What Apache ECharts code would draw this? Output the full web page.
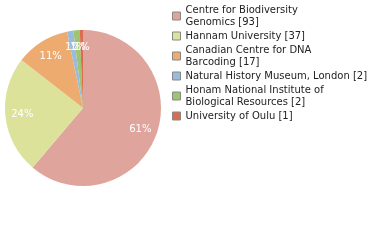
<!DOCTYPE html>
<html><head><meta charset="utf-8">
<script src="https://cdn.jsdelivr.net/npm/echarts@6/dist/echarts.min.js"></script>
<style>html,body{margin:0;padding:0;background:#fff}#c{width:380px;height:240px}</style>
</head><body><div id="c"></div>
<script>
var names = ["Centre for Biodiversity Genomics", "Hannam University", "Canadian Centre for DNA Barcoding", "Natural History Museum, London", "Honam National Institute of Biological Resources", "University of Oulu"];
var legendLabels = ["Centre for Biodiversity\nGenomics [93]", "Hannam University [37]", "Canadian Centre for DNA\nBarcoding [17]", "Natural History Museum, London [2]", "Honam National Institute of\nBiological Resources [2]", "University of Oulu [1]"];
var values = [93, 37, 17, 2, 2, 1];
var colors = ["#dfa59d", "#dde29b", "#eeab70", "#9bbbdd", "#9dc46f", "#dc6c50"];

var total = values.reduce(function(a,b){return a+b;},0);
var data = names.map(function(n,i){return {name:n, value:values[i], itemStyle:{color:colors[i]}};});
var labelMap = {};
names.forEach(function(n,i){labelMap[n]=legendLabels[i];});

var chart = echarts.init(document.getElementById('c'), null, {renderer:'canvas'});
chart.setOption({
  animation:false,
  legend:{
    orient:'vertical', left:167, top:-1, itemWidth:8, itemHeight:8, itemGap:2,
    icon:'rect', padding:[5,5,5,5],
    itemStyle:{borderColor:'#888', borderWidth:1},
    data:names,
    formatter:function(n){return labelMap[n];},
    textStyle:{fontFamily:'DejaVu Sans', fontSize:10, color:'#222', lineHeight:12}
  },
  series:[
    {type:'pie', center:[83,108], radius:[0,78], startAngle:90, clockwise:true,
     data:data, label:{show:false}, labelLine:{show:false}, silent:true},
    {type:'pie', center:[83,108], radius:[38,78], startAngle:90, clockwise:true,
     data:names.map(function(n,i){return {name:n, value:values[i], itemStyle:{color:'rgba(0,0,0,0)'}};}),
     itemStyle:{color:'rgba(0,0,0,0)'},
     avoidLabelOverlap:false,
     labelLayout:{hideOverlap:false},
     label:{show:true, position:'inside', color:'#fff', fontFamily:'DejaVu Sans', fontSize:10,
       formatter:function(p){return Math.round(p.value/total*100)+'%';}},
     labelLine:{show:false}, silent:true}
  ]
});
</script></body></html>
